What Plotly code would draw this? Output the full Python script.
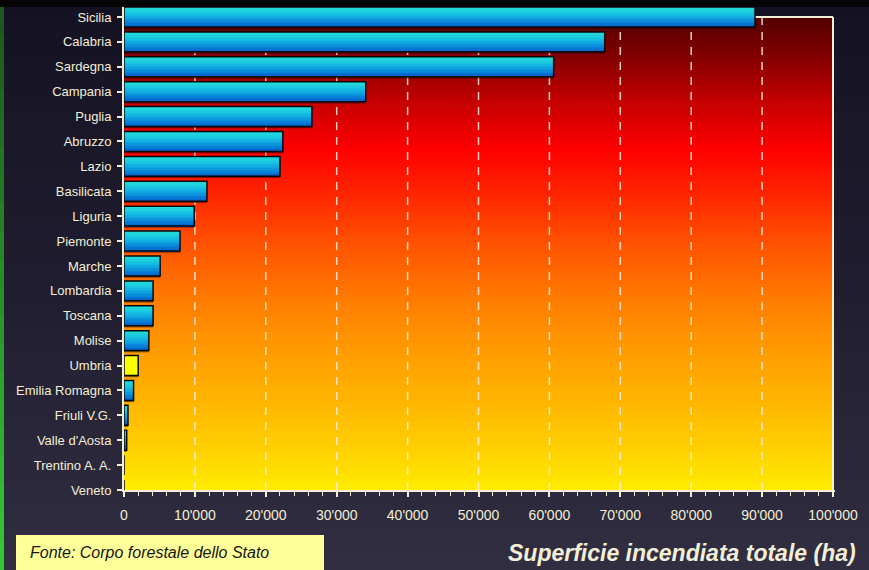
import plotly.graph_objects as go
import numpy as np

# ---------------- data ----------------
regions = ["Sicilia", "Calabria", "Sardegna", "Campania", "Puglia", "Abruzzo",
           "Lazio", "Basilicata", "Liguria", "Piemonte", "Marche", "Lombardia",
           "Toscana", "Molise", "Umbria", "Emilia Romagna", "Friuli V.G.",
           "Valle d'Aosta", "Trentino A. A.", "Veneto"]
burned_ha = [89000, 67800, 60600, 34100, 26500, 22400, 22000, 11700, 9900, 7900,
             5100, 4100, 4100, 3500, 2000, 1350, 560, 380, 0, 0]
tick_vals = [0, 10000, 20000, 30000, 40000, 50000, 60000, 70000, 80000, 90000, 100000]
tick_labels = ["0", "10'000", "20'000", "30'000", "40'000", "50'000", "60'000",
               "70'000", "80'000", "90'000", "100'000"]
highlight_region = "Umbria"
source_text = "Fonte: Corpo forestale dello Stato"
axis_title = "Superficie incendiata totale (ha)"

# ---------------- geometry ----------------
W, H = 869, 570
ML, MR, MT, MB = 124, 34, 7, 80
PW = W - ML - MR
PH = H - MT - MB
X100K_PX = 833
xmax = 100000 * PW / (X100K_PX - ML)
n = len(regions)
step_px = (490 - 17) / (n - 1)
ymax = (n - 1) + (17 - MT) / step_px

def px2x(px):
    return (px - ML) / PW

def px2y(py):
    return (H - MB - py) / PH

def lerp_color(stops, t):
    for i in range(len(stops) - 1):
        t0, c0 = stops[i]
        t1, c1 = stops[i + 1]
        if t0 <= t <= t1:
            f = (t - t0) / (t1 - t0) if t1 > t0 else 0
            c = [int(round(c0[k] + (c1[k] - c0[k]) * f)) for k in range(3)]
            return "rgb(%d,%d,%d)" % tuple(c)
    c = stops[-1][1]
    return "rgb(%d,%d,%d)" % tuple(c)

def hx(s):
    s = s.lstrip('#')
    return [int(s[i:i + 2], 16) for i in (0, 2, 4)]

CREAM = "#f3eed6"
shapes = []

# slide background (vertical gradient)
bg_stops = [(0, hx("#141222")), (0.5, hx("#1f1d2f")), (1, hx("#302e40"))]
NB = 40
for i in range(NB):
    y0 = H * i / NB - 1
    y1 = H * (i + 1) / NB + 1
    shapes.append(dict(type="rect", xref="paper", yref="paper", layer="below",
                       x0=px2x(0), x1=px2x(W), y0=px2y(y1), y1=px2y(y0),
                       fillcolor=lerp_color(bg_stops, (i + 0.5) / NB), line=dict(width=0)))
# green strip at left edge
gr_stops = [(0, hx("#1c551c")), (1, hx("#36c836"))]
NG = 20
for i in range(NG):
    y0 = max(7 + (H - 7) * i / NG - 1, 7)
    y1 = 7 + (H - 7) * (i + 1) / NG + 1
    shapes.append(dict(type="rect", xref="paper", yref="paper", layer="below",
                       x0=px2x(0), x1=px2x(4), y0=px2y(y1), y1=px2y(y0),
                       fillcolor=lerp_color(gr_stops, (i + 0.5) / NG), line=dict(width=0)))

# plot-area gradient (dark red -> red -> orange -> yellow), in data coords
pa_stops = [(0.0, hx("#540000")), (0.09, hx("#860000")), (0.175, hx("#c20000")),
            (0.28, hx("#ff0000")), (0.39, hx("#ff2c00")), (0.49, hx("#ff5600")),
            (0.60, hx("#ff7c00")), (0.70, hx("#ff9a00")), (0.81, hx("#ffb400")),
            (0.92, hx("#ffd200")), (1.0, hx("#ffec00"))]
NP = 90
top_val = n - 1
for i in range(NP):
    t0 = i / NP
    t1 = (i + 1) / NP
    y_hi = top_val * (1 - t0)
    y_lo = max(top_val * (1 - t1) - 0.08, 0)
    shapes.append(dict(type="rect", xref="x", yref="y", layer="below",
                       x0=0, x1=100000, y0=y_lo, y1=y_hi,
                       fillcolor=lerp_color(pa_stops, (t0 + t1) / 2), line=dict(width=0)))

# dashed vertical gridlines
for v in tick_vals[1:-1]:
    shapes.append(dict(type="line", xref="x", yref="y", layer="below",
                       x0=v, x1=v, y0=0, y1=top_val,
                       line=dict(color="rgba(255,240,225,0.85)", width=1.5, dash="8px,7px")))
# plot frame top + right
shapes.append(dict(type="line", xref="x", yref="y", layer="below",
                   x0=0, x1=100000, y0=top_val, y1=top_val,
                   line=dict(color=CREAM, width=2)))
shapes.append(dict(type="line", xref="x", yref="y", layer="below",
                   x0=100000, x1=100000, y0=0, y1=top_val,
                   line=dict(color=CREAM, width=2)))

# black band at top
shapes.append(dict(type="rect", xref="paper", yref="paper", layer="above",
                   x0=px2x(0), x1=px2x(W), y0=px2y(MT), y1=px2y(-2),
                   fillcolor="#050505", line=dict(width=0)))
# source box
shapes.append(dict(type="rect", xref="paper", yref="paper", layer="above",
                   x0=px2x(16), x1=px2x(324), y0=px2y(571), y1=px2y(535),
                   fillcolor="#ffff99", line=dict(width=0)))

# ---------------- bars ----------------
fig = go.Figure()
BW = 0.8
# shadow
fig.add_trace(go.Bar(y=regions, x=burned_ha, orientation="h", width=BW, offset=-BW / 2 - 0.07,
                     marker=dict(color="rgba(0,0,0,0.45)", line=dict(width=0)),
                     hoverinfo="skip", showlegend=False))
bar_stops = [(0.0, hx("#0058c2")), (0.25, hx("#0882d8")), (0.55, hx("#12b0e2")),
             (0.8, hx("#1ccfe0")), (1.0, hx("#22dcd6"))]
NS = 14
sw = BW / NS
for i in range(NS):
    c = lerp_color(bar_stops, (i + 0.5) / NS)
    cols = ["#ffff00" if r == highlight_region else c for r in regions]
    wi = sw * 1.3 if i < NS - 1 else sw
    fig.add_trace(go.Bar(y=regions, x=burned_ha, orientation="h", width=wi,
                         offset=-BW / 2 + i * sw,
                         marker=dict(color=cols, line=dict(width=0)),
                         hoverinfo="skip", showlegend=False))
# outline
fig.add_trace(go.Bar(y=regions, x=burned_ha, orientation="h", width=BW, offset=-BW / 2,
                     marker=dict(color="rgba(0,0,0,0)", line=dict(color="#050a10", width=1.5)),
                     hoverinfo="skip", showlegend=False))

fig.update_layout(
    width=W, height=H,
    margin=dict(l=ML, r=MR, t=MT, b=MB, pad=0),
    paper_bgcolor="#1d1b2b",
    plot_bgcolor="rgba(0,0,0,0)",
    barmode="overlay",
    showlegend=False,
    hovermode=False,
    shapes=shapes,
    font=dict(family="Liberation Sans, Arial, sans-serif", color=CREAM),
    xaxis=dict(range=[0, xmax], tickvals=tick_vals, ticktext=tick_labels,
               showgrid=False, zeroline=False, showline=True, linecolor=CREAM, linewidth=2,
               ticks="outside", ticklen=5, tickwidth=1.5, tickcolor=CREAM,
               minor=dict(dtick=2000, tick0=0, ticks="outside", ticklen=4, tickwidth=1.2,
                          tickcolor=CREAM, showgrid=False),
               tickfont=dict(size=14, color=CREAM), ticklabelstandoff=6, fixedrange=True),
    yaxis=dict(type="category", categoryorder="array", categoryarray=regions[::-1],
               range=[0, ymax], showgrid=False, zeroline=False,
               showline=True, linecolor=CREAM, linewidth=2,
               ticks="outside", ticklen=5, tickwidth=1.5, tickcolor=CREAM,
               tickfont=dict(size=13, color=CREAM), ticklabelstandoff=3, fixedrange=True),
    annotations=[
        dict(xref="paper", yref="paper", x=px2x(28), y=px2y(552), xanchor="left", yanchor="middle",
             text="<i>" + source_text + "</i>", showarrow=False,
             font=dict(size=16, color="#151515", family="Liberation Sans, Arial, sans-serif")),
        dict(xref="paper", yref="paper", x=px2x(858), y=px2y(553), xanchor="right", yanchor="middle",
             text="<b><i>" + axis_title + "</i></b>", showarrow=False,
             font=dict(size=23, color=CREAM, family="Liberation Sans, Arial, sans-serif")),
    ],
)

fig.write_html("out.html", config={"displayModeBar": False},
               post_script="document.body.style.margin='0px';")
